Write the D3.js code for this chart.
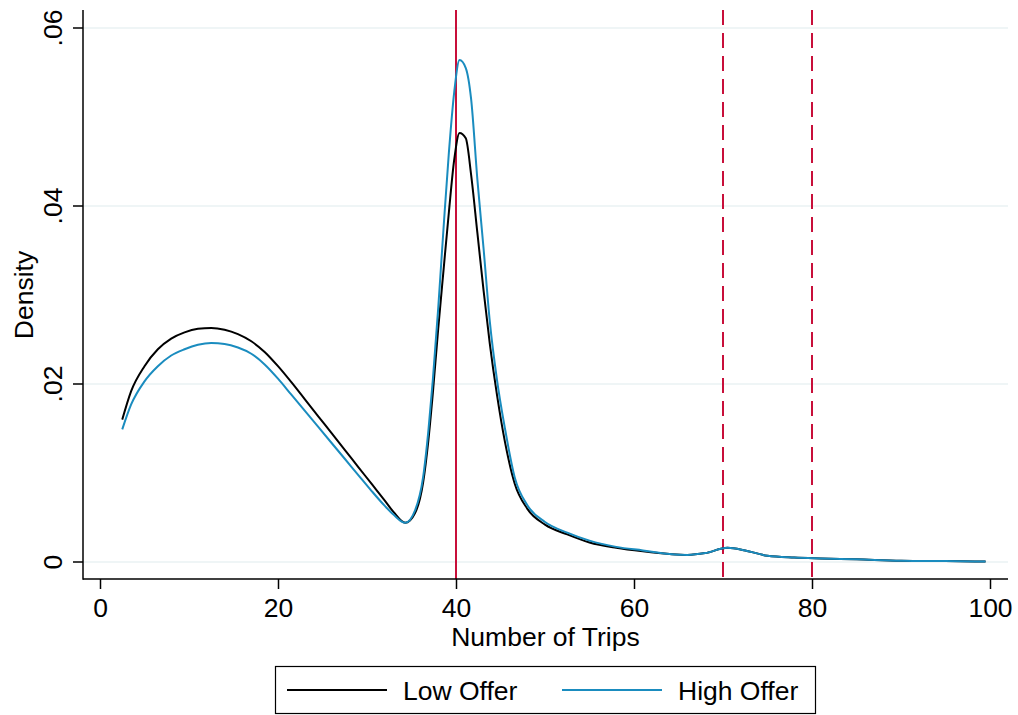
<!DOCTYPE html>
<html>
<head>
<meta charset="utf-8">
<script src="https://cdn.jsdelivr.net/npm/d3@7"></script>
<style>
  body { margin: 0; background: #fff; }
  text { font-family: "Liberation Sans", Arial, Helvetica, sans-serif; fill: #000; }
</style>
</head>
<body>
<svg id="chart" width="1018" height="715"></svg>
<script>
// evaluation points (number of trips)
const trips = [2.5, 3.5, 5, 6.5, 8, 9.5, 11, 12.5, 14, 15.5, 17, 18.5, 20, 21.5, 23, 24.5,
  26, 27.5, 29, 30.5, 32, 33, 34.3, 35.4, 36.3, 36.9, 37.4, 38, 38.6, 39.2, 39.8, 40.4,
  41.1, 41.7, 42.4, 43.1, 43.8, 44.6, 45.5, 46.6, 48, 50, 52.5, 55, 58, 61, 64, 66, 68,
  70.5, 72.5, 75, 78, 81, 85, 90, 95, 99.5];

const lowOffer = [.0160, .0192, .0220, .0239, .0251, .0258, .0262, .0263, .0261, .0256,
  .0248, .0236, .0220, .0202, .0183, .0164, .0145, .0126, .0107, .0088, .0069, .0056,
  .0044, .0055, .0089, .0137, .0190, .0262, .0328, .0393, .0452, .0482, .0476, .0435,
  .0370, .0305, .0245, .0188, .0135, .0088, .0060, .0042, .0031, .0022, .0016, .0012,
  .0009, .0008, .0010, .0016, .0013, .0007, .0005, .0004, .0003, .00015, .0001, .00005];

const highOffer = [.0149, .0177, .0203, .0220, .0232, .0239, .0244, .0246, .0245, .0241,
  .0234, .0222, .0206, .0188, .0170, .0152, .0134, .0116, .0098, .0080, .0063, .0053,
  .0044, .0058, .0095, .0148, .0205, .0285, .0375, .0460, .0528, .0564, .0555, .0520,
  .0430, .0352, .0270, .0205, .0150, .0095, .0064, .0045, .0033, .0024, .0017, .0013,
  .0009, .0008, .0010, .0016, .0013, .0007, .0005, .0004, .0003, .00015, .0001, .00005];

const xTicks = [0, 20, 40, 60, 80, 100];
const yTicks = [0, .02, .04, .06];
const yTickLabels = ["0", ".02", ".04", ".06"];
const solidRefs = [40];
const dashedRefs = [70, 80];

const series = [
  { name: "Low Offer", values: lowOffer, color: "#000000" },
  { name: "High Offer", values: highOffer, color: "#1a8cbf" }
];

const svg = d3.select("#chart");
const x = d3.scaleLinear().domain([0, 100]).range([100, 990]);
const y = d3.scaleLinear().domain([0, .06]).range([562, 28]);

const plotLeft = 83, plotRight = 1008, plotTop = 10, plotBottom = 579;
const red = "#c80f3a";
const fs = 26.5;

// grid lines
svg.append("g").selectAll("line")
    .data(yTicks)
    .enter().append("line")
    .attr("x1", plotLeft).attr("x2", plotRight)
    .attr("y1", d => y(d)).attr("y2", d => y(d))
    .attr("stroke", "#eaf2f3").attr("stroke-width", 1.5);

// reference lines
svg.append("g").selectAll("line")
    .data(solidRefs)
    .enter().append("line")
    .attr("x1", d => x(d)).attr("x2", d => x(d))
    .attr("y1", plotTop).attr("y2", plotBottom)
    .attr("stroke", red).attr("stroke-width", 2);

svg.append("g").selectAll("line")
    .data(dashedRefs)
    .enter().append("line")
    .attr("x1", d => x(d)).attr("x2", d => x(d))
    .attr("y1", plotTop).attr("y2", plotBottom)
    .attr("stroke", red).attr("stroke-width", 2)
    .attr("stroke-dasharray", "15,8");

// density curves
const line = d3.line()
    .x((d, i) => x(trips[i]))
    .y(d => y(d))
    .curve(d3.curveMonotoneX);

series.forEach(s => {
  svg.append("path")
      .attr("d", line(s.values))
      .attr("fill", "none")
      .attr("stroke", s.color)
      .attr("stroke-width", 2);
});

// axes
const xAxis = d3.axisBottom(x).tickValues(xTicks).tickSize(10).tickPadding(9);
const gx = svg.append("g").attr("transform", `translate(0,${plotBottom})`).call(xAxis);
gx.select(".domain").remove();
gx.selectAll("line").attr("stroke-width", 1.5);
gx.selectAll("text").attr("font-size", fs).attr("font-family", null);

const yAxis = d3.axisLeft(y).tickValues(yTicks).tickSize(10)
    .tickFormat((d, i) => yTickLabels[i]);
const gy = svg.append("g").attr("transform", `translate(${plotLeft},0)`).call(yAxis);
gy.select(".domain").remove();
gy.selectAll("line").attr("stroke-width", 1.5);
gy.selectAll(".tick").attr("transform", null);
gy.selectAll(".tick line").attr("y1", d => y(d)).attr("y2", d => y(d));
gy.selectAll("text")
    .attr("font-size", fs).attr("font-family", null)
    .attr("x", null).attr("dy", null)
    .attr("text-anchor", "middle")
    .attr("transform", d => `translate(-21,${y(d)}) rotate(-90)`);

svg.append("line").attr("x1", plotLeft).attr("x2", plotLeft)
    .attr("y1", plotTop).attr("y2", plotBottom + 0.75)
    .attr("stroke", "#000").attr("stroke-width", 1.5);
svg.append("line").attr("x1", plotLeft).attr("x2", plotRight)
    .attr("y1", plotBottom).attr("y2", plotBottom)
    .attr("stroke", "#000").attr("stroke-width", 1.5);

// axis titles
svg.append("text")
    .attr("x", (plotLeft + plotRight) / 2).attr("y", 646)
    .attr("text-anchor", "middle").attr("font-size", fs)
    .text("Number of Trips");

svg.append("text")
    .attr("transform", `translate(33,${(y(0) + y(.06)) / 2}) rotate(-90)`)
    .attr("text-anchor", "middle").attr("font-size", fs)
    .text("Density");

// legend
const legend = svg.append("g");
legend.append("rect")
    .attr("x", 275.5).attr("y", 666.5).attr("width", 540).attr("height", 47)
    .attr("fill", "#fff").attr("stroke", "#000").attr("stroke-width", 1.2);

const legendX = [287, 562];
series.forEach((s, i) => {
  legend.append("line")
      .attr("x1", legendX[i]).attr("x2", legendX[i] + 100)
      .attr("y1", 690).attr("y2", 690)
      .attr("stroke", s.color).attr("stroke-width", 2);
  legend.append("text")
      .attr("x", legendX[i] + 116).attr("y", 700)
      .attr("font-size", fs)
      .text(s.name);
});
</script>
</body>
</html>
